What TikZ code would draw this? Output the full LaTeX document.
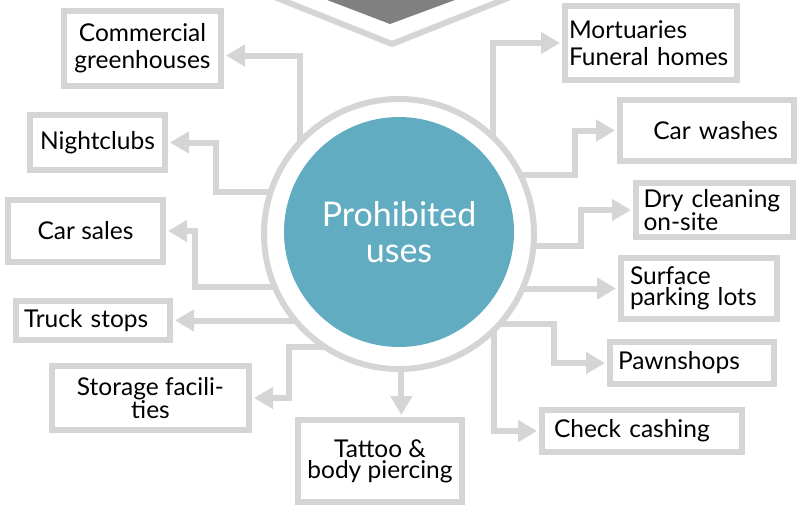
\documentclass[tikz,border=0pt]{standalone}
\usepackage{fontspec}
\setmainfont{Lato}
\usetikzlibrary{arrows.meta}
\definecolor{linegray}{RGB}{212,213,215}
\definecolor{usesteal}{RGB}{98,172,193}
\definecolor{capgray}{RGB}{128,128,128}
\tikzset{
  box/.style={draw=linegray, line width=6pt, inner sep=0pt, align=center,
    font=\fontsize{24.5}{27}\selectfont},
  boxl/.style={box, align=left},
  tight/.style={font=\fontsize{24.5}{21}\selectfont},
  conn/.style={draw=linegray, line width=6pt, shorten >=2pt,
    -{Triangle[length=19pt, width=21pt]}},
}
\begin{document}
\begin{tikzpicture}[x=1pt, y=-1pt]
        \useasboundingbox (0, 0) rectangle (804, 507);
        \clip (0, 0) rectangle (804, 507);

        \fill[capgray] (301, -10) -- (482, -10) -- (390, 24) -- cycle;
        \draw[linegray, line width=6pt] (257, -10) -- (392, 44) -- (528, -10);

        \node (ring) at (399, 234) [circle, draw=linegray, line width=6pt, minimum size=270, inner sep=0pt, outer sep=0pt] {};
        \node (uses) at (399, 232) [circle, fill=usesteal, minimum size=230, text=white, align=center,
          font=\fontsize{34}{36}\selectfont] {Prohibited\\uses};

        \node (comm)     at (142.5,  48.5) [box, minimum width=157, minimum height=75] {Commercial\\greenhouses};
        \node (night)    at ( 97.5, 142.5) [box, minimum width=135, minimum height=55] {Nightclubs};
        \node (carsales) at ( 85.5, 231.0) [box, minimum width=155, minimum height=62] {Car sales};
        \node (truck)    at ( 93.0, 320.5) [boxl, minimum width=154, minimum height=39, text width=138] {Truck stops};
        \node (storage)  at (150.5, 398.0) [box, tight, minimum width=197, minimum height=64] {Storage facili-\\ties};
        \node (tattoo)   at (380.0, 461.0) [box, tight, minimum width=164, minimum height=82] {Tattoo \&\\body piercing};

        \node (check)    at (642.0, 431.0) [boxl, minimum width=200, minimum height=42, text width=176] {Check cashing};
        \node (pawn)     at (692.0, 363.0) [boxl, minimum width=164, minimum height=42, text width=148] {Pawnshops};
        \node (surface)  at (699.0, 288.5) [boxl, tight, minimum width=156, minimum height=61, text width=138] {Surface\\parking lots};
        \node (dry)      at (714.5, 210.0) [boxl, tight, minimum width=157, minimum height=54, text width=142] {Dry cleaning\\on-site};
        \node (carwash)  at (707.0, 130.5) [box, align=right, minimum width=174, minimum height=61, text width=142] {Car washes};
        \node (mort)     at (651.0,  43.0) [boxl, minimum width=172, minimum height=74, text width=164] {Mortuaries\\Funeral homes};

        \draw[conn] (ring.137) |- ([yshift=-7pt]comm.east);
        \draw[conn] (ring.162) -- ++(-55, 0) |- (night.east);
        \draw[conn] (ring.203) -- ++(-80, 0) |- (carsales.east);
        \draw[conn] (ring.220 |- truck.east) -- (truck.east);
        \draw[conn] (ring.237) -- ++(-36, 0) |- (storage.east);
        \draw[conn] (ring.271) -- (ring.271 |- tattoo.north);

        \draw[conn] (ring.315) |- (check.west);
        \draw[conn] (ring.318) -- ++(55, 0) |- (pawn.west);
        \draw[conn] (ring.336 |- surface.west) -- (surface.west);
        \draw[conn] (ring.355) -- ++(48, 0) |- (dry.west);
        \draw[conn] (ring.26) -- ++(55, 0) |- (carwash.west);
        \draw[conn] (ring.46) |- (mort.west);
\end{tikzpicture}
\end{document}
